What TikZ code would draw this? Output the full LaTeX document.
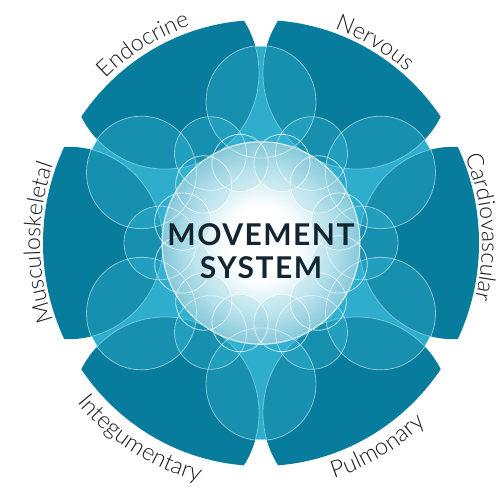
\documentclass[tikz,border=0pt]{standalone}
\usepackage{fontspec}
\usetikzlibrary{decorations.text,calc}
\newfontfamily\labelfont{Lato Light}[LetterSpace=12]
\newfontfamily\labelfontwide{Lato Light}[LetterSpace=16]
\newfontfamily\titlefont{Lato}[LetterSpace=5]
\definecolor{petaldark}{HTML}{087C9C}
\definecolor{bglight}{HTML}{28A6C6}
\definecolor{ringfill}{HTML}{3CC0E0}
\definecolor{coremid}{HTML}{C4E8F0}
\definecolor{coreedge}{HTML}{86C9DA}
\definecolor{titleink}{HTML}{142532}
\definecolor{labelink}{HTML}{1A1A1A}
\pgfdeclareradialshading{coreglow}{\pgfpoint{0bp}{0bp}}{color(0bp)=(white); color(9bp)=(white); color(18bp)=(coremid); color(25bp)=(coreedge); color(50bp)=(coreedge)}
\tikzset{
  ringpaint/.style={fill=ringfill, fill opacity=0.3},
  ringedge/.style={draw=white, draw opacity=0.5, line width=0.8pt},
  clabel/.style={decorate, decoration={text along path, text align=center,
     text={|\labelfont\fontsize{23}{23}\selectfont\color{labelink}|#1}}},
  blabel/.style={decorate, decoration={text along path, text align=center,
     text={|\labelfontwide\fontsize{23.5}{23.5}\selectfont\color{labelink}|#1}}}
}
\begin{document}
\begin{tikzpicture}[x=1pt,y=1pt]
\useasboundingbox (0,0) rectangle (503,488);
\fill[white] (0,0) rectangle (503,488);
\coordinate (C) at (261,245);
\begin{scope}[shift={(C)}, yscale=1.023]
  % light background disc
  \fill[bglight] (0,0) circle (192);
  % petals
  \begin{scope}
    \clip (0,0) circle (218);
    \foreach \a in {0,60,...,300} \fill[petaldark] (\a:192) circle (94);
  \end{scope}
  % petal edges inside light disc
  \begin{scope}
    \clip (0,0) circle (192);
    \foreach \a in {0,60,...,300} \draw[ringedge] (\a:192) circle (94);
  \end{scope}
  % ring fills
  \foreach \a in {30,90,...,330} \fill[ringpaint] (\a:138) circle (55);
  \foreach \a in {0,60,...,300} \fill[ringpaint] (\a:101) circle (36);
  % core
  \shade[shading=coreglow] (0,0) circle (99);
  \begin{scope}
    \clip (0,0) circle (99);
    \foreach \a in {15,45,...,345} \fill[coreedge, opacity=0.18] (\a:81) circle (28);
  \end{scope}
  % outlines
  \foreach \a in {30,90,...,330} \draw[ringedge] (\a:138) circle (55);
  \foreach \a in {0,60,...,300} \draw[ringedge] (\a:101) circle (36);
  \foreach \a in {15,45,...,345} \draw[ringedge, draw opacity=0.7] (\a:81) circle (28);
  \draw[white, line width=1pt, opacity=0.85] (0,0) circle (99);
\end{scope}
% title
\node[font=\titlefont\bfseries\fontsize{30}{33}\selectfont, text=titleink, align=center] (title) at (261,237) {MOVEMENT\\SYSTEM};
% labels
\path[clabel=Musculoskeletal] ($(C)+(225:221 and 227)$) arc[start angle=225, end angle=135, x radius=221, y radius=227];
\path[clabel=Endocrine] ($(C)+(166:223 and 229)$) arc[start angle=166, end angle=76, x radius=223, y radius=229];
\path[clabel=Nervous] ($(C)+(105:221 and 227)$) arc[start angle=105, end angle=15, x radius=221, y radius=227];
\path[clabel=Cardiovascular] ($(C)+(49:221 and 227)$) arc[start angle=49, end angle=-41, x radius=221, y radius=227];
\path[blabel=Pulmonary] ($(C)+(250:241 and 247)$) arc[start angle=250, end angle=350, x radius=241, y radius=247];
\path[blabel=Integumentary] ($(C)+(188:241 and 247)$) arc[start angle=188, end angle=288, x radius=241, y radius=247];
\end{tikzpicture}
\end{document}
